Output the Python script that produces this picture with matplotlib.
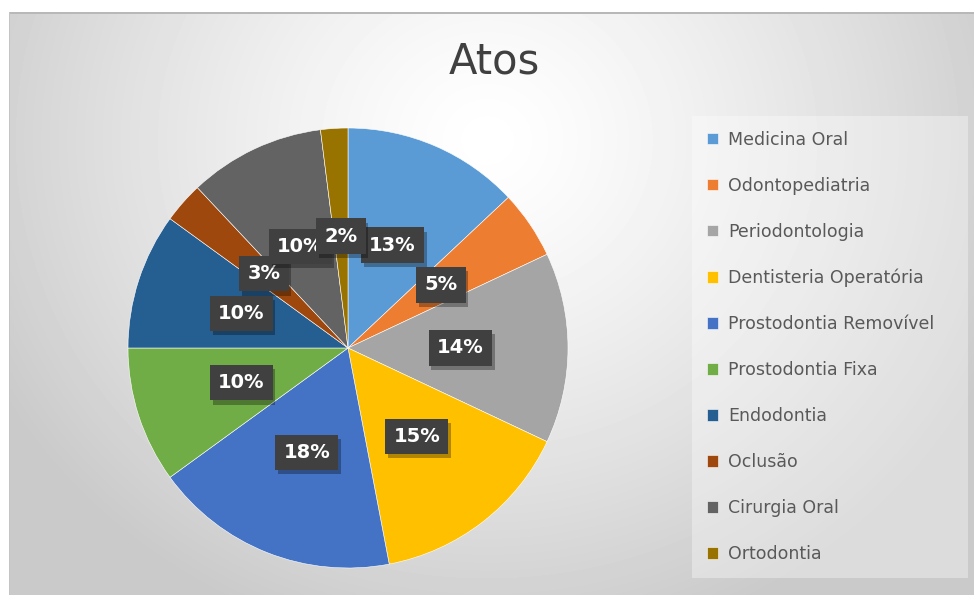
import numpy as np
import matplotlib
matplotlib.use("Agg")
import matplotlib.pyplot as plt
from matplotlib.patches import Rectangle
import matplotlib.patheffects as pe

# -------------------------
# data
# -------------------------
categories = ["Medicina Oral", "Odontopediatria", "Periodontologia",
              "Dentisteria Operatória", "Prostodontia Removível",
              "Prostodontia Fixa", "Endodontia", "Oclusão",
              "Cirurgia Oral", "Ortodontia"]
values = [13, 5, 14, 15, 18, 10, 10, 3, 10, 2]
colors = ["#5B9BD5", "#ED7D31", "#A5A5A5", "#FFC000", "#4472C4",
          "#70AD47", "#255E91", "#9E480E", "#636363", "#997300"]

W, H = 974, 595
fig = plt.figure(figsize=(W / 100, H / 100), dpi=100)
fig.patch.set_facecolor("white")

# -------------------------
# background (radial grey gradient)
# -------------------------
bg = fig.add_axes([0, 0, 1, 1])
bg.set_xlim(0, W)
bg.set_ylim(H, 0)
bg.axis("off")
yy, xx = np.mgrid[12:H, 9:W]
d = np.sqrt(((xx - 487) / 560.0) ** 2 + ((yy - 140) / 520.0) ** 2)
shade = 1.0 - 0.21 * np.clip(d, 0, 1) ** 1.3
bg.imshow(shade, cmap="gray", vmin=0, vmax=1, extent=(9, W, H, 12),
          aspect="auto", interpolation="bilinear")
bg.add_patch(Rectangle((9, 12), W - 9, 2, color="#b8b8b8", lw=0))
bg.add_patch(Rectangle((9, 12), 1, H - 12, color="#c4c4c4", lw=0))

# -------------------------
# pie
# -------------------------
cx, cy, r = 348, 348, 220
ax = fig.add_axes([(cx - r) / W, (H - cy - r) / H, 2 * r / W, 2 * r / H])
wedges, texts = ax.pie(values, colors=colors, startangle=90,
                       counterclock=False, radius=1,
                       wedgeprops=dict(edgecolor="white", linewidth=0.4))
ax.set_xlim(-1, 1)
ax.set_ylim(-1, 1)
ax.set_aspect("equal")

for w, v in zip(wedges, values):
    ang = np.deg2rad((w.theta1 + w.theta2) / 2)
    x, y = 0.51 * np.cos(ang), 0.51 * np.sin(ang)
    t = ax.text(x, y, f"{v}%", ha="center", va="center", fontsize=14,
                fontweight="bold", color="white",
                bbox=dict(boxstyle="square,pad=0.42", fc="#404040", ec="none"))
    t.get_bbox_patch().set_path_effects(
        [pe.SimplePatchShadow(offset=(2, -3), shadow_rgbFace="black", alpha=0.3),
         pe.Normal()])

# -------------------------
# title + legend
# -------------------------
fig.text(494 / W, 1 - 62 / H, "Atos", fontsize=30, ha="center", va="center",
         color="#404040")

leg = fig.legend(wedges, categories, loc="upper left",
                 bbox_to_anchor=(692 / W, 1 - 116 / H, (968 - 692) / W, 0),
                 mode="expand", fontsize=12.5, labelcolor="#595959",
                 handlelength=0.65, handleheight=0.65, handletextpad=0.6,
                 labelspacing=1.61, borderpad=0.85, borderaxespad=0,
                 fancybox=False, frameon=True)
leg.get_frame().set_facecolor("white")
leg.get_frame().set_alpha(0.35)
leg.get_frame().set_edgecolor("none")

fig.savefig("out.png", dpi=100)
